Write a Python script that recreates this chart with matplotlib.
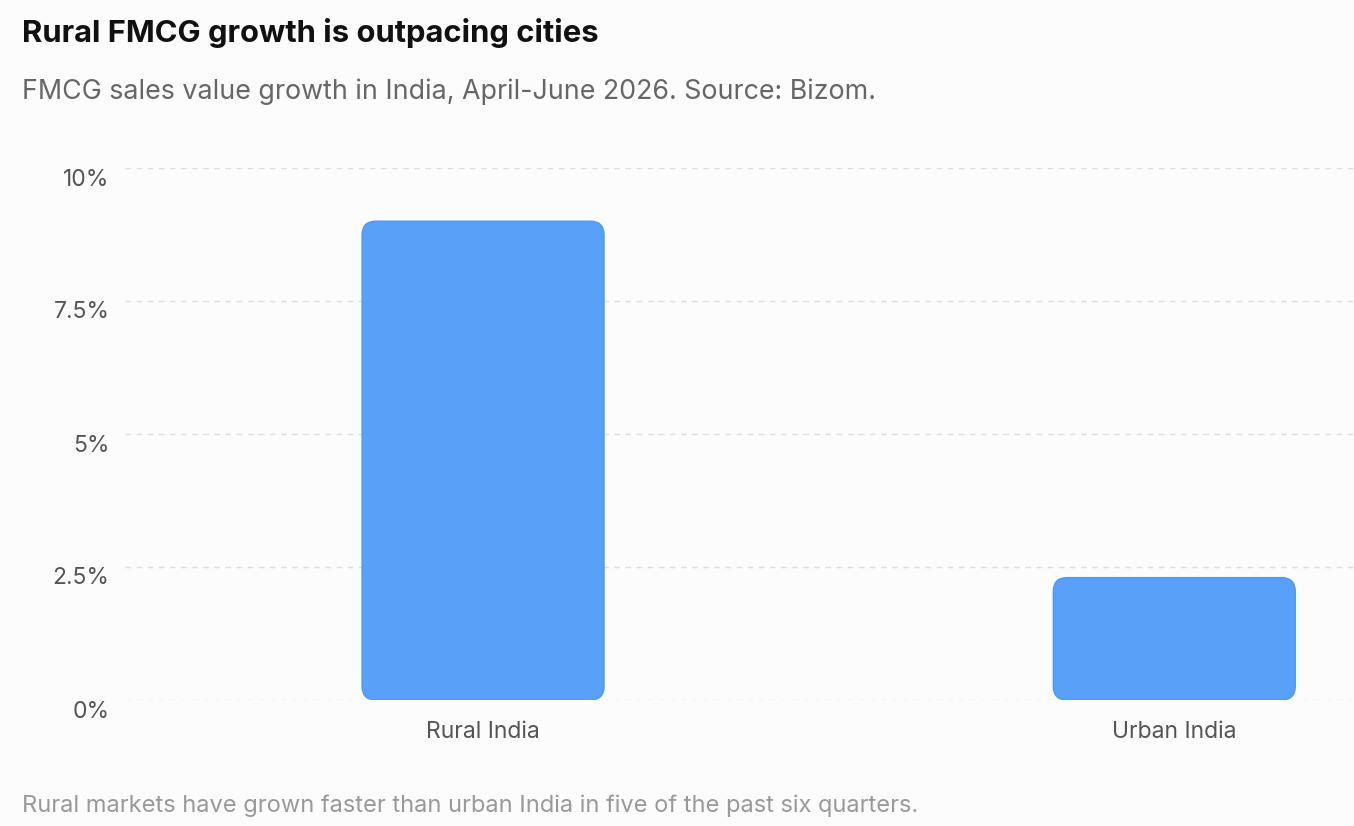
import matplotlib
matplotlib.use("Agg")
import matplotlib.pyplot as plt
import matplotlib.transforms as mtransforms
from matplotlib.patches import FancyBboxPatch
from matplotlib.ticker import FixedLocator

categories = ["Rural India", "Urban India"]
growth = [9.0, 2.3]
yticks = [0, 2.5, 5, 7.5, 10]
ytick_labels = ["0%", "2.5%", "5%", "7.5%", "10%"]

plt.rcParams['font.family'] = ['Inter', 'DejaVu Sans']
bg = "#fcfcfc"
fig = plt.figure(figsize=(13.54, 8.26), dpi=100, facecolor=bg)
ax = fig.add_axes([125/1354, (826-700)/826, 1 - 125/1354, (700-168)/826], facecolor=bg)

x = list(range(len(categories)))
bars = ax.bar(x, growth, width=0.35, color="none")
for b in bars:
    b.set_visible(False)
    r = 0.02
    p = FancyBboxPatch((b.get_x() + r, b.get_y() + r * 13), b.get_width() - 2 * r, b.get_height() - 2 * r * 13,
                       boxstyle=f"round,pad={r}", mutation_aspect=13,
                       facecolor="#59a0f8", edgecolor="#4f97f5", linewidth=1)
    ax.add_patch(p)

ax.set_xlim(-0.518, 1.26)
ax.set_ylim(0, 10)
ax.yaxis.set_major_locator(FixedLocator(yticks))
ax.set_yticklabels(ytick_labels)
ax.set_xticks(x)
ax.set_xticklabels(categories)
ax.tick_params(length=0, labelsize=16.5, colors="#555555")
ax.tick_params(axis="y", pad=11)
ax.tick_params(axis="x", pad=15)
shift = mtransforms.ScaledTranslation(0, -9/100, fig.dpi_scale_trans)
for lbl in ax.get_yticklabels():
    lbl.set_transform(lbl.get_transform() + shift)
ax.grid(axis="y", linestyle=(0, (4, 4)), color="#dddddd", linewidth=1)
ax.set_axisbelow(True)
for s in ax.spines.values():
    s.set_visible(False)

fig.text(22/1354, 1 - 33/826, "Rural FMCG growth is outpacing cities", fontsize=22.3, fontweight="bold",
         color="#111111", va="center")
fig.text(22/1354, 1 - 92/826, "FMCG sales value growth in India, April-June 2026. Source: Bizom.", fontsize=19.3,
         color="#666666", va="center")
fig.text(22/1354, 1 - 806/826, "Rural markets have grown faster than urban India in five of the past six quarters.",
         fontsize=17, color="#999999", va="center")

fig.savefig("out.png", dpi=100, facecolor=bg)
